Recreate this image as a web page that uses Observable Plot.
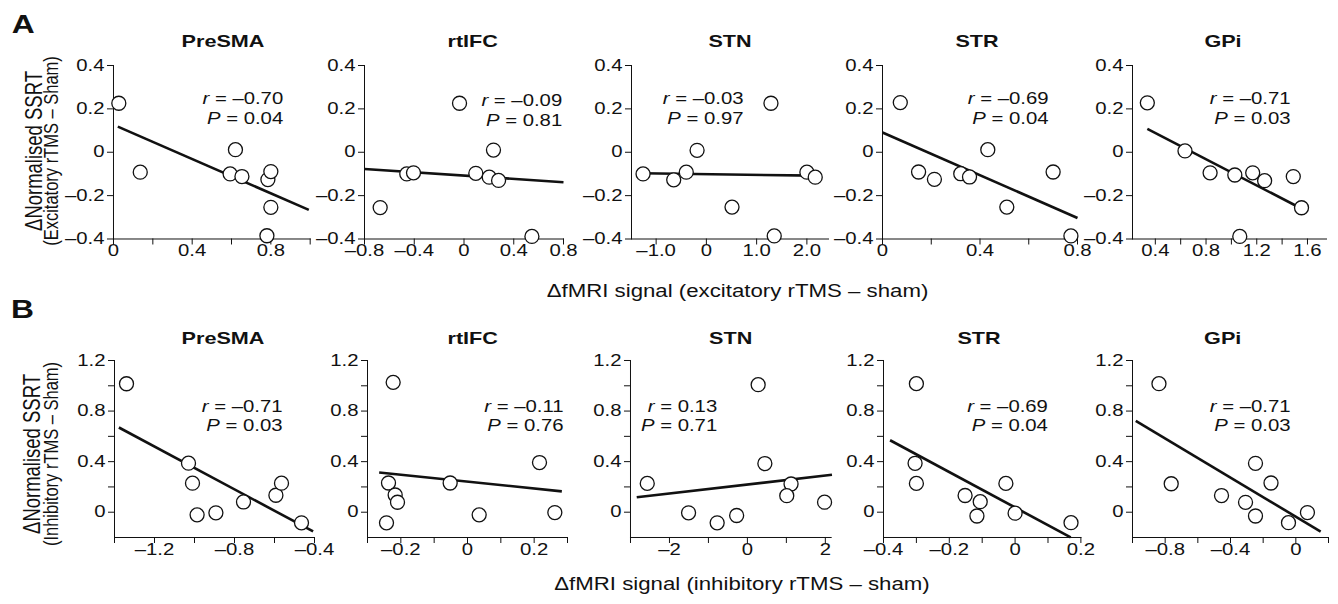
<!DOCTYPE html>
<html><head><meta charset="utf-8">
<script src="https://cdn.jsdelivr.net/npm/d3@7"></script>
<script src="https://cdn.jsdelivr.net/npm/@observablehq/plot@0.6"></script>
<style>
html,body{margin:0;padding:0;background:#fff;}
#chart{position:relative;width:1338px;height:604px;overflow:hidden;background:#fff;font-family:"Liberation Sans",Arial,sans-serif;}
</style></head><body><div id="chart"></div>
<script>
// ---------- data ----------
const regions = ["PreSMA", "rtIFC", "STN", "STR", "GPi"];
const rowLetters = ["A", "B"];
const xTitles = ["ΔfMRI signal (excitatory rTMS – sham)", "ΔfMRI signal (inhibitory rTMS – sham)"];
const yTitles1 = ["ΔNormalised SSRT", "ΔNormalised SSRT"];
const yTitles2 = ["(Excitatory rTMS – Sham)", "(Inhibitory rTMS – Sham)"];

// Row A: excitatory rTMS
const excX = [
  [0.027, 0.136, 0.593, 0.62, 0.653, 0.785, 0.80, 0.80, 0.78],
  [-0.674, -0.46, -0.406, -0.036, 0.095, 0.203, 0.237, 0.278, 0.546],
  [-1.26, -0.65, -0.40, -0.185, 0.51, 1.285, 1.35, 2.0, 2.166],
  [0.073, 0.148, 0.213, 0.321, 0.357, 0.432, 0.51, 0.70, 0.773],
  [0.337, 0.634, 0.832, 1.027, 1.168, 1.262, 1.066, 1.488, 1.553]
];
const excY = [
  [0.226, -0.092, -0.10, 0.012, -0.112, -0.126, -0.089, -0.254, -0.385],
  [-0.255, -0.10, -0.095, 0.226, -0.097, -0.115, 0.01, -0.13, -0.388],
  [-0.10, -0.127, -0.092, 0.009, -0.253, 0.226, -0.386, -0.092, -0.115],
  [0.229, -0.091, -0.125, -0.099, -0.114, 0.012, -0.253, -0.091, -0.386],
  [0.228, 0.006, -0.095, -0.105, -0.095, -0.131, -0.388, -0.112, -0.256]
];
const excFit = [
  [0.022, 0.118, 0.993, -0.266],
  [-0.8, -0.077, 0.8, -0.138],
  [-1.28, -0.097, 2.17, -0.108],
  [0, 0.091, 0.8, -0.303],
  [0.337, 0.108, 1.54, -0.256]
];
const excR = ["–0.70", "–0.09", "–0.03", "–0.69", "–0.71"];
const excP = ["0.04", "0.81", "0.97", "0.04", "0.03"];
const excXDomain = [[0, 1.0], [-0.8, 0.8], [-1.49, 2.43], [0, 0.8], [0.22, 1.75]];
const excXTicks = [[0, 0.2, 0.4, 0.6, 0.8, 1.0], [-0.8, -0.4, 0, 0.4, 0.8], [-1, 0, 1, 2], [0, 0.2, 0.4, 0.6, 0.8], [0.4, 0.6, 0.8, 1.0, 1.2, 1.4, 1.6]];
const excXLabels = [[0, 0.4, 0.8], [-0.8, -0.4, 0, 0.4, 0.8], [-1, 0, 1, 2], [0, 0.4, 0.8], [0.4, 0.8, 1.2, 1.6]];
const excXDecimals = [1, 1, 1, 1, 1];
const excYDomain = [-0.4, 0.4];
const excYTicks = [-0.4, -0.2, 0, 0.2, 0.4];
const excYLabels = [-0.4, -0.2, 0, 0.2, 0.4];

// Row B: inhibitory rTMS
const inhX = [
  [-1.34, -1.03, -1.01, -0.987, -0.893, -0.755, -0.593, -0.565, -0.465],
  [-0.223, -0.237, -0.217, -0.21, -0.243, -0.052, 0.035, 0.216, 0.262],
  [-2.57, -1.51, -0.776, -0.276, 0.276, 0.448, 1.12, 1.01, 1.98],
  [-0.30, -0.304, -0.30, -0.152, -0.106, -0.116, -0.028, 0, 0.17],
  [-0.838, -0.763, -0.455, -0.308, -0.247, -0.247, -0.152, -0.045, 0.071]
];
const inhY = [
  [1.016, 0.388, 0.23, -0.021, -0.005, 0.081, 0.134, 0.23, -0.084],
  [1.027, 0.231, 0.136, 0.079, -0.084, 0.231, -0.021, 0.393, -0.003],
  [0.228, -0.005, -0.084, -0.026, 1.009, 0.385, 0.223, 0.131, 0.079],
  [1.017, 0.387, 0.228, 0.132, 0.083, -0.03, 0.228, -0.008, -0.083],
  [1.017, 0.225, 0.132, 0.078, 0.387, -0.03, 0.231, -0.083, -0.003]
];
const inhFit = [
  [-1.378, 0.67, -0.407, -0.152],
  [-0.265, 0.314, 0.283, 0.165],
  [-2.84, 0.118, 2.17, 0.296],
  [-0.38, 0.569, 0.169, -0.199],
  [-0.98, 0.722, 0.152, -0.153]
];
const inhR = ["–0.71", "–0.11", "0.13", "–0.69", "–0.71"];
const inhP = ["0.03", "0.76", "0.71", "0.04", "0.03"];
const inhXDomain = [[-1.4, -0.4], [-0.3, 0.3], [-3, 2.15], [-0.4, 0.2], [-1.0, 0.2]];
const inhXTicks = [[-1.4, -1.2, -1.0, -0.8, -0.6, -0.4], [-0.3, -0.2, -0.1, 0, 0.1, 0.2, 0.3], [-3, -2, -1, 0, 1, 2], [-0.4, -0.3, -0.2, -0.1, 0, 0.1, 0.2], [-1.0, -0.8, -0.6, -0.4, -0.2, 0, 0.2]];
const inhXLabels = [[-1.2, -0.8, -0.4], [-0.2, 0, 0.2], [-2, 0, 2], [-0.4, -0.2, 0, 0.2], [-0.8, -0.4, 0]];
const inhXDecimals = [1, 1, 0, 1, 1];
const inhYDomain = [-0.2, 1.2];
const inhYTicks = [0, 0.2, 0.4, 0.6, 0.8, 1.0, 1.2];
const inhYLabels = [0, 0.4, 0.8, 1.2];

// ---------- layout (pixels) ----------
const L = {
  rowTop: [65, 360], rowHeight: [173.5, 177],
  frameLeft: [[113.3, 364, 631, 882, 1132], [114, 366.7, 630, 883.3, 1132.3]],
  frameWidth: [[196.7, 199, 197, 195, 194], [200, 200, 200.7, 197.4, 196]],
  titleX: [[223, 472.7, 730, 977, 1223], [223, 472.7, 730.7, 979, 1222.7]],
  titleBase: [46.7, 344],
  annDx: [[-27, -1.3, -85, -29, -36], [-32, -4, -114, -33, -38]],
  annDy: [[33, 35, 33, 33, 33], [46, 46, 46, 46, 46]],
  annGap: [20, 19.5],
  letterX: [11.7, 11], letterBase: [33, 318],
  xTitleX: [737.5, 742], xTitleBase: [297, 590],
  yT1X: [41.5, 39.5], yT2X: [58, 57.5], yTY: [151, 454],
  yT1Size: 18.5, yT2Size: 16.5,
  stretch: 1.27
};
const ML = 62, MR = 24, MT = 12, MB = 34;
const FONT = '"Liberation Sans", Arial, sans-serif';
const INK = "#111";

const rows = [
  {x: excX, y: excY, fit: excFit, r: excR, p: excP, xDomain: excXDomain, xTicks: excXTicks, xLabels: excXLabels, xDec: excXDecimals, yDomain: excYDomain, yTicks: excYTicks, yLabels: excYLabels},
  {x: inhX, y: inhY, fit: inhFit, r: inhR, p: inhP, xDomain: inhXDomain, xTicks: inhXTicks, xLabels: inhXLabels, xDec: inhXDecimals, yDomain: inhYDomain, yTicks: inhYTicks, yLabels: inhYLabels}
];

const fmt = (d, dec) => Math.abs(d) < 1e-9 ? "0" : (d < 0 ? "–" : "") + Math.abs(d).toFixed(dec);
const isLab = (arr, d) => arr.some(v => Math.abs(v - d) < 1e-9);

const root = document.getElementById("chart");

rows.forEach((row, ri) => {
  regions.forEach((name, ci) => {
    const fw = L.frameWidth[ri][ci], fh = L.rowHeight[ri];
    const pts = row.x[ci].map((x, k) => ({x, y: row.y[ci][k]}));
    const f = row.fit[ci];
    const fitData = [{x1: f[0], y1: f[1], x2: f[2], y2: f[3]}];
    const chart = Plot.plot({
      width: ML + fw + MR, height: MT + fh + MB,
      marginLeft: ML, marginRight: MR, marginTop: MT, marginBottom: MB,
      style: {background: "transparent", fontFamily: FONT, fontSize: "16px", color: INK, overflow: "visible"},
      x: {domain: row.xDomain[ci], ticks: row.xTicks[ci], tickFormat: d => isLab(row.xLabels[ci], d) ? fmt(d, row.xDec[ci]) : "", tickSize: 6, tickPadding: 0, line: true, label: null},
      y: {domain: row.yDomain, ticks: row.yTicks, tickFormat: d => isLab(row.yLabels, d) ? fmt(d, 1) : "", tickSize: 6, tickPadding: 3, line: true, label: null},
      marks: [
        Plot.link(fitData, {x1: "x1", y1: "y1", x2: "x2", y2: "y2", stroke: INK, strokeWidth: 2.6}),
        Plot.dot(pts, {x: "x", y: "y", r: 7, stroke: INK, strokeWidth: 1.3, fill: "white"}),
        Plot.text(["r = " + row.r[ci]], {text: d => d, frameAnchor: "top-right", textAnchor: "end", lineAnchor: "middle", dx: L.annDx[ri][ci], dy: L.annDy[ri][ci], fontSize: 16, fill: INK}),
        Plot.text(["P = " + row.p[ci]], {text: d => d, frameAnchor: "top-right", textAnchor: "end", lineAnchor: "middle", dx: L.annDx[ri][ci], dy: L.annDy[ri][ci] + L.annGap[ri], fontSize: 16, fill: INK})
      ]
    });
    chart.style.position = "absolute";
    chart.style.left = (L.frameLeft[ri][ci] - ML) + "px";
    chart.style.top = (L.rowTop[ri] - MT) + "px";
    chart.style.maxWidth = "none";
    // italic statistic letter
    chart.querySelectorAll('g[aria-label="text"] text').forEach(el => {
      const s = el.textContent;
      el.textContent = "";
      const it = document.createElementNS("http://www.w3.org/2000/svg", "tspan");
      it.setAttribute("font-style", "italic");
      it.textContent = s[0];
      el.appendChild(it);
      el.appendChild(document.createTextNode(s.slice(1)));
    });
    root.appendChild(chart);
  });
});

// ---------- overlay texts ----------
const ov = d3.select(root).append("svg")
  .attr("width", 1338).attr("height", 604)
  .style("position", "absolute").style("left", 0).style("top", 0)
  .style("font-family", FONT).attr("fill", INK);

rows.forEach((row, ri) => {
  ov.append("text").attr("x", L.letterX[ri]).attr("y", L.letterBase[ri])
    .attr("font-size", 25).attr("font-weight", "bold").text(rowLetters[ri]);
  regions.forEach((name, ci) => {
    ov.append("text").attr("x", L.titleX[ri][ci]).attr("y", L.titleBase[ri])
      .attr("text-anchor", "middle").attr("font-size", 17).attr("font-weight", "bold").text(name);
  });
  ov.append("text").attr("x", L.xTitleX[ri]).attr("y", L.xTitleBase[ri])
    .attr("text-anchor", "middle").attr("font-size", 17.5).text(xTitles[ri]);
  ov.append("text").attr("data-nostretch", 1)
    .attr("transform", `translate(${L.yT1X[ri]},${L.yTY[ri]}) scale(${L.stretch},1) rotate(-90)`)
    .attr("text-anchor", "middle").attr("font-size", L.yT1Size).text(yTitles1[ri]);
  ov.append("text").attr("data-nostretch", 1)
    .attr("transform", `translate(${L.yT2X[ri]},${L.yTY[ri]}) scale(${L.stretch},1) rotate(-90)`)
    .attr("text-anchor", "middle").attr("font-size", L.yT2Size).text(yTitles2[ri]);
});

// horizontal widening of type, as in the reference figure
root.querySelectorAll("svg text:not([data-nostretch])").forEach(el => {
  const w = el.getComputedTextLength();
  if (w > 0) {
    el.setAttribute("textLength", (w * L.stretch).toFixed(2));
    el.setAttribute("lengthAdjust", "spacingAndGlyphs");
  }
});
</script></body></html>
